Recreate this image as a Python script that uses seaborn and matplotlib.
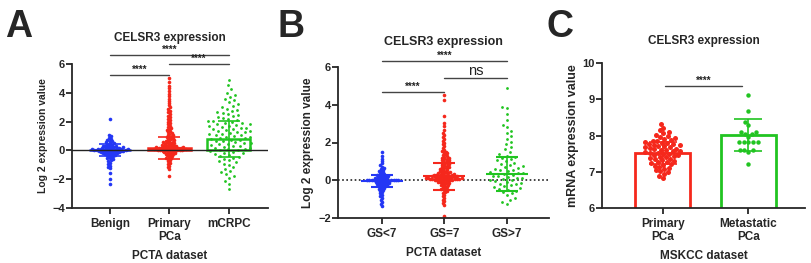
import numpy as np
import pandas as pd
import matplotlib
matplotlib.use("Agg")
import matplotlib.pyplot as plt
import seaborn as sns

# ---------------- data ----------------
# Panel A (PCTA dataset)
a_groups = ["Benign", "Primary\nPCa", "mCRPC"]
a_benign = [2.2, 1.1, 0.98, 0.88, 0.8, 0.74, 0.68, 0.62, 0.57, 0.52, 0.48, 0.44, 0.4, 0.37,
            0.34, 0.31, 0.29, 0.27, 0.25, 0.23, 0.21, 0.19, 0.17, 0.15, 0.14, 0.13, 0.12, 0.11,
            0.1, 0.09, 0.08, 0.07, 0.06, 0.05, 0.04, 0.03, 0.02, 0.01, 0.0, 0.0, -0.01, -0.02,
            -0.03, -0.04, -0.05, -0.06, -0.07, -0.08, -0.1, -0.11, -0.13, -0.15, -0.17, -0.19,
            -0.21, -0.23, -0.25, -0.28, -0.31, -0.34, -0.37, -0.41, -0.45, -0.5, -0.56, -0.63,
            -0.7, -0.76, -0.85, -0.95, -1.05, -1.15, -1.25, -1.6, -2.0, -2.3]
a_primary = [5.0, 4.75, 4.5, 4.3, 4.1, 3.9, 3.75, 3.6, 3.45, 3.3, 3.15, 3.0, 2.88, 2.76, 2.64,
             2.52, 2.4, 2.3, 2.2, 2.1, 2.0, 1.9, 1.8, 1.72, 1.64, 1.56, 1.49, 1.42, 1.35, 1.28,
             1.22, 1.16, 1.1, 1.05, 1.0, 0.95, 0.9, 0.85, 0.8, 0.76, 0.72, 0.68, 0.64, 0.61,
             0.58, 0.55, 0.52, 0.49, 0.46, 0.43, 0.4, 0.38, 0.36, 0.34, 0.32, 0.3, 0.28, 0.26,
             0.24, 0.22, 0.21, 0.2, 0.19, 0.18, 0.17, 0.16, 0.15, 0.14, 0.13, 0.12, 0.11, 0.1,
             0.09, 0.08, 0.07, 0.06, 0.05, 0.04, 0.03, 0.02, 0.01, 0.0, -0.01, -0.02, -0.04,
             -0.06, -0.09, -0.12, -0.15, -0.18, -0.21, -0.24, -0.27, -0.3, -0.35, -0.4, -0.45,
             -0.5, -0.55, -0.6, -0.68, -0.76, -0.85, -0.94, -1.05, -1.18, -1.3, -1.8]
a_mcrpc = [4.9, 4.55, 4.25, 4.0, 3.85, 3.72, 3.6, 3.47, 3.35, 3.22, 3.1, 2.98, 2.9, 2.83, 2.76,
           2.68, 2.61, 2.54, 2.47, 2.4, 2.33, 2.26, 2.19, 2.12, 2.06, 2.01, 1.97, 1.93, 1.88,
           1.84, 1.8, 1.76, 1.71, 1.67, 1.63, 1.59, 1.55, 1.5, 1.46, 1.42, 1.38, 1.33, 1.29,
           1.25, 1.21, 1.17, 1.12, 1.08, 1.04, 1.0, 0.96, 0.91, 0.87, 0.83, 0.79, 0.75, 0.7,
           0.66, 0.62, 0.58, 0.54, 0.49, 0.45, 0.41, 0.37, 0.33, 0.28, 0.24, 0.2, 0.16, 0.12,
           0.07, 0.03, 0.0, -0.05, -0.1, -0.15, -0.2, -0.26, -0.31, -0.37, -0.43, -0.5, -0.58,
           -0.66, -0.75, -0.84, -0.93, -1.02, -1.14, -1.27, -1.4, -1.53, -1.66, -1.8, -1.95,
           -2.1, -2.3, -2.7]
a_mean = [0.0, 0.17, 0.82]
a_sd = [0.42, 0.75, 1.25]

# Panel B (PCTA dataset, Gleason score)
b_groups = ["GS<7", "GS=7", "GS>7"]
b_lt7 = [1.5, 1.3, 1.15, 1.02, 0.9, 0.8, 0.72, 0.65, 0.6, 0.55, 0.5, 0.46, 0.42, 0.38, 0.34,
         0.31, 0.28, 0.26, 0.24, 0.22, 0.2, 0.18, 0.16, 0.14, 0.12, 0.1, 0.08, 0.06, 0.04, 0.03,
         0.02, 0.015, 0.01, 0.005, 0.0, 0.0, -0.005, -0.01, -0.015, -0.02, -0.03, -0.05,
         -0.07, -0.09, -0.11, -0.13, -0.15, -0.17, -0.19, -0.21, -0.23, -0.25, -0.27, -0.3,
         -0.33, -0.37, -0.41, -0.45, -0.49, -0.53, -0.58, -0.63, -0.7, -0.78, -0.86, -0.95,
         -1.05, -1.15, -1.25, -1.35]
b_eq7 = [4.5, 4.25, 3.4, 3.05, 2.85, 2.65, 2.5, 2.4, 2.3, 2.2, 2.1, 2.0, 1.9, 1.8, 1.7, 1.62,
         1.56, 1.51, 1.46, 1.42, 1.37, 1.33, 1.28, 1.24, 1.2, 1.17, 1.14, 1.11, 1.08, 1.05,
         1.02, 0.99, 0.96, 0.93, 0.9, 0.87, 0.84, 0.81, 0.78, 0.75, 0.72, 0.69, 0.66, 0.63,
         0.6, 0.57, 0.54, 0.51, 0.48, 0.46, 0.44, 0.42, 0.4, 0.38, 0.36, 0.34, 0.32, 0.3, 0.29,
         0.28, 0.27, 0.26, 0.25, 0.24, 0.23, 0.22, 0.21, 0.2, 0.19, 0.18, 0.17, 0.16, 0.15,
         0.14, 0.13, 0.12, 0.12, 0.11, 0.1, 0.1, 0.09, 0.08, 0.08, 0.07, 0.06, 0.05, 0.05, 0.04,
         0.03, 0.02, 0.02, 0.01, 0.0, -0.01, -0.03, -0.05, -0.07, -0.09, -0.11, -0.13, -0.15,
         -0.17, -0.2, -0.23, -0.26, -0.29, -0.33, -0.37, -0.41, -0.45, -0.49, -0.53, -0.58,
         -0.63, -0.68, -0.76, -0.85, -0.94, -1.03, -1.12, -1.21, -1.3, -1.9]
b_gt7 = [4.9, 3.9, 3.82, 3.5, 3.2, 2.95, 2.8, 2.62, 2.48, 2.33, 2.2, 2.05, 1.92, 1.78, 1.65,
         1.52, 1.4, 1.3, 1.24, 1.18, 1.12, 1.06, 1.0, 0.94, 0.88, 0.82, 0.76, 0.7, 0.64, 0.6,
         0.56, 0.52, 0.48, 0.44, 0.41, 0.37, 0.33, 0.29, 0.25, 0.22, 0.18, 0.14, 0.1, 0.06,
         0.03, 0.0, -0.04, -0.08, -0.13, -0.18, -0.22, -0.27, -0.32, -0.36, -0.41, -0.46, -0.5,
         -0.55, -0.6, -0.7, -0.8, -0.92, -1.02, -1.13, -1.25]
b_mean = [-0.02, 0.2, 0.32]
b_sd = [0.32, 0.74, 0.9]

# Panel C (MSKCC dataset)
c_groups = ["Primary\nPCa", "Metastatic\nPCa"]
c_primary = [8.33, 8.22, 8.15, 8.1, 8.06, 8.02, 7.98, 7.95, 7.92, 7.9, 7.88, 7.86, 7.84, 7.82,
             7.8, 7.79, 7.77, 7.76, 7.74, 7.73, 7.71, 7.7, 7.68, 7.67, 7.65, 7.64, 7.62, 7.61,
             7.59, 7.58, 7.56, 7.55, 7.53, 7.52, 7.5, 7.49, 7.47, 7.46, 7.44, 7.42, 7.4, 7.38,
             7.36, 7.34, 7.32, 7.3, 7.28, 7.26, 7.24, 7.22, 7.2, 7.17, 7.14, 7.11, 7.08, 7.05,
             7.02, 6.98, 6.94, 6.88, 6.82]
c_meta = [9.12, 8.68, 8.38, 8.29, 8.1, 8.1, 8.04, 8.04, 7.97, 7.83, 7.83, 7.83, 7.83, 7.83,
          7.61, 7.61, 7.61, 7.55, 7.21]
c_mean = [7.52, 8.01]
c_sd = [0.3, 0.44]

blue, red, green = "#2437f5", "#f5281c", "#21c421"

# ---------------- style ----------------
sns.set_theme(style="ticks")
plt.rcParams["font.family"] = ["Liberation Sans", "DejaVu Sans"]
plt.rcParams["font.weight"] = "bold"
plt.rcParams["axes.linewidth"] = 1.3
plt.rcParams["xtick.major.width"] = 1.3
plt.rcParams["ytick.major.width"] = 1.3
plt.rcParams["xtick.major.size"] = 4
plt.rcParams["ytick.major.size"] = 4

W, H = 811, 263
fig = plt.figure(figsize=(W / 100, H / 100), dpi=100)
swarms = []  # (collection, size the dots are finally drawn at)


def add_ax(left, right, top, bottom):
    return fig.add_axes([left / W, 1 - bottom / H, (right - left) / W, (bottom - top) / H])


def swarm(ax, groups, series, colors, layout_sizes, draw_sizes):
    # swarm is laid out with one dot size, then drawn with another:
    # bigger -> solid GraphPad-like blobs, smaller -> loose cloud with gaps
    for name, vals, c, s, ds in zip(groups, series, colors, layout_sizes, draw_sizes):
        n_before = len(ax.collections)
        df = pd.DataFrame({"group": name, "value": vals})
        sns.swarmplot(data=df, x="group", y="value", order=groups, color=c, size=s,
                      linewidth=0, warn_thresh=1, ax=ax, zorder=2)
        for coll in ax.collections[n_before:]:
            swarms.append((coll, ds))


def bracket(ax, x1, x2, y, label, fs=7, weight="bold", dy=0.02):
    ax.plot([x1, x2], [y, y], color="#444444", lw=1.0, clip_on=False)
    ax.text((x1 + x2) / 2, y + dy, label, ha="center", va="bottom",
            fontsize=fs, fontweight=weight, color="#222222")


def finish(ax, groups, ylab, xlab, title, xlim, ylim, yticks, ylab_fs, title_fs=8.5,
           title_pad=14):
    ax.set_xlim(*xlim)
    ax.set_ylim(*ylim)
    ax.set_yticks(yticks)
    ax.set_xticks(range(len(groups)))
    ax.set_xticklabels(groups, fontsize=8.5, fontweight="bold", linespacing=1.15)
    ax.tick_params(axis="y", labelsize=8, pad=1)
    ax.tick_params(axis="x", pad=3)
    ax.set_ylabel(ylab, fontsize=ylab_fs, fontweight="bold", labelpad=3)
    ax.set_xlabel(xlab, fontsize=8.5, fontweight="bold", labelpad=5)
    ax.set_title(title, fontsize=title_fs, fontweight="bold", pad=title_pad)
    sns.despine(ax=ax)


# ---------------- panel A ----------------
axA = add_ax(72, 268, 64, 208)
swarm(axA, a_groups, [a_benign, a_primary, a_mcrpc], [blue, red, green],
      [1.6, 1.6, 3.6], [2.6, 2.6, 2.0])
sns.barplot(x=a_groups, y=a_mean, hue=a_groups, palette=[blue, red, green], fill=False,
            saturation=1, width=0.72, linewidth=1.8, errorbar=None, legend=False, ax=axA,
            zorder=3)
for i, (m, s, c) in enumerate(zip(a_mean, a_sd, [blue, red, green])):
    axA.errorbar(i, m, yerr=s, fmt="none", ecolor=c, elinewidth=1.2, capsize=8,
                 capthick=1.2, zorder=4)
axA.axhline(0, color="#222222", lw=1.0, zorder=5)
finish(axA, a_groups, "Log 2 expression value", "PCTA dataset", "CELSR3 expression",
       (-0.64, 2.66), (-4, 6), [-4, -2, 0, 2, 4, 6], 7.5, title_pad=16.5)
bracket(axA, 0, 1, 5.26, "****")
bracket(axA, 1, 2, 6.02, "****")
bracket(axA, 0, 2, 6.65, "****")

# ---------------- panel B ----------------
axB = add_ax(338, 549, 67, 218)
swarm(axB, b_groups, [b_lt7, b_eq7, b_gt7], [blue, red, green],
      [1.6, 1.6, 3.6], [2.6, 2.6, 2.0])
for i, (m, s, c) in enumerate(zip(b_mean, b_sd, [blue, red, green])):
    axB.errorbar(i, m, yerr=s, fmt="_", color=c, markersize=30, mew=1.5,
                 elinewidth=1.2, capsize=8, capthick=1.2, zorder=4)
axB.axhline(0, color="#222222", lw=1.2, ls=(0, (1, 1.5)), zorder=1)
finish(axB, b_groups, "Log 2 expression value", "PCTA dataset", "CELSR3 expression",
       (-0.7, 2.67), (-2, 6), [-2, 0, 2, 4, 6], 8.5, title_fs=9, title_pad=15.5)
bracket(axB, 0, 1, 4.66, "****")
bracket(axB, 1, 2, 5.40, "ns", fs=10.5, weight="normal", dy=0.02)
bracket(axB, 0, 2, 6.33, "****")

# ---------------- panel C ----------------
axC = add_ax(602, 805, 63, 208)
sns.barplot(x=c_groups, y=c_mean, hue=c_groups, palette=[red, green], fill=False,
            saturation=1, width=0.64, linewidth=2, errorbar=None, legend=False, ax=axC,
            zorder=1)
swarm(axC, c_groups, [c_primary, c_meta], [red, green], [3.2, 3.2], [3.6, 3.2])
for i, (m, s, c) in enumerate(zip(c_mean, c_sd, [red, green])):
    axC.errorbar(i, m, yerr=s, fmt="none", ecolor=c, elinewidth=1.2, capsize=10,
                 capthick=1.2, zorder=4)
finish(axC, c_groups, "mRNA expression value", "MSKCC dataset", "CELSR3 expression",
       (-0.71, 1.66), (6, 10), [6, 7, 8, 9, 10], 9)
bracket(axC, 0.03, 0.92, 9.37, "****", dy=0.01)

# panel letters
for x, letter in [(5, "A"), (278, "B"), (547, "C")]:
    fig.text(x / W, 1 - 37 / H, letter, fontsize=27, fontweight="bold", ha="left",
             va="baseline")

# lay the swarms out once, then freeze them and redraw the dots at their final size
fig.canvas.draw()
for coll, ds in swarms:
    if "draw" in coll.__dict__:
        del coll.draw
    coll.set_sizes([ds ** 2])

fig.savefig("out.png", dpi=100)
